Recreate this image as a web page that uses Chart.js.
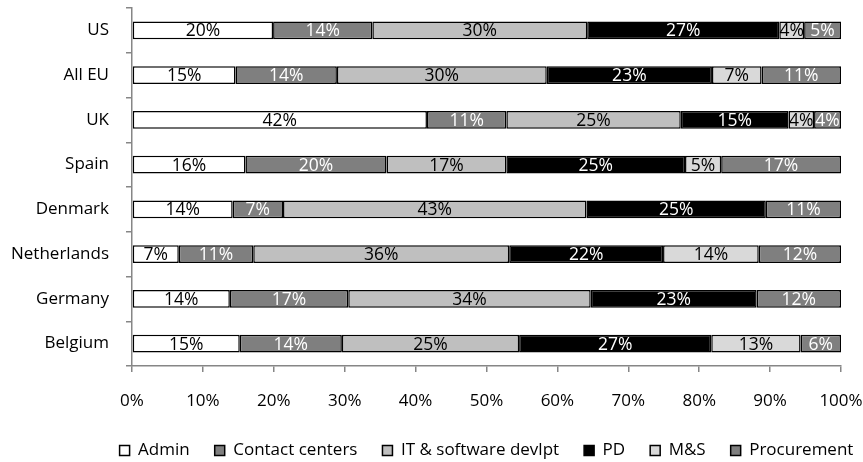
<!DOCTYPE html>
<html><head><meta charset="utf-8">
<script src="https://cdn.jsdelivr.net/npm/chart.js@4.4.0/dist/chart.umd.min.js"></script>
<style>html,body{margin:0;padding:0;background:#fff}canvas{display:block}</style>
</head><body>
<canvas id="c" width="863" height="462"></canvas>
<script>
const categories = ['US', 'All EU', 'UK', 'Spain', 'Denmark', 'Netherlands', 'Germany', 'Belgium'];
const seriesNames = ['Admin', 'Contact centers', 'IT & software devlpt', 'PD', 'M&S', 'Procurement'];
const admin          = [19.9, 14.6, 41.6, 16.0, 14.2,  6.6, 13.8, 15.2];
const contactCenters = [14.0, 14.3, 11.2, 19.9,  7.1, 10.5, 16.7, 14.4];
const itSoftware     = [30.3, 29.6, 24.6, 16.9, 42.8, 36.1, 34.2, 25.0];
const pd             = [27.1, 23.3, 15.2, 25.2, 25.3, 21.7, 23.4, 27.1];
const ms             = [ 3.5,  7.0,  3.6,  5.1,  0.0, 13.5,  0.0, 12.6];
const procurement    = [ 5.2, 11.2,  3.8, 16.9, 10.6, 11.6, 11.9,  5.7];
const xTickValues = [0, 10, 20, 30, 40, 50, 60, 70, 80, 90, 100];

const fills = ['#ffffff', '#7f7f7f', '#bfbfbf', '#000000', '#d9d9d9', '#7f7f7f'];
const labelColors = ['#000', '#fff', '#000', '#fff', '#000', '#fff'];
const values = [admin, contactCenters, itSoftware, pd, ms, procurement];
const AXIS = '#868686';
const SANS = '"Open Sans", "Liberation Sans", sans-serif';

const datasets = seriesNames.map((name, i) => ({
  label: name,
  data: values[i],
  backgroundColor: fills[i],
  borderColor: '#000',
  borderWidth: 1.5,
  borderSkipped: false,
  categoryPercentage: 1,
  barPercentage: 0.4,
  labelColor: labelColors[i]
}));

const barLabels = {
  id: 'barLabels',
  afterDatasetsDraw(chart) {
    const ctx = chart.ctx;
    ctx.save();
    ctx.font = '17.5px ' + SANS;
    ctx.textAlign = 'center';
    ctx.textBaseline = 'middle';
    chart.data.datasets.forEach((ds, di) => {
      const meta = chart.getDatasetMeta(di);
      meta.data.forEach((el, i) => {
        const v = ds.data[i];
        if (!v) return;
        const p = el.getProps(['x', 'y', 'base'], true);
        ctx.fillStyle = ds.labelColor;
        ctx.fillText(Math.round(v) + '%', (p.x + p.base) / 2, p.y + 1);
      });
    });
    ctx.restore();
  }
};

const legendShift = {
  id: 'legendShift',
  afterLayout(chart) {
    const l = chart.legend;
    if (!l) return;
    l.left += 66; l.right += 66;
    l.top += 7; l.bottom += 7;
  }
};

new Chart(document.getElementById('c'), {
  type: 'bar',
  data: { labels: categories, datasets },
  plugins: [barLabels, legendShift],
  options: {
    indexAxis: 'y',
    responsive: false,
    devicePixelRatio: 1,
    animation: false,
    layout: { padding: { top: 8, right: 22, left: 0, bottom: 0 } },
    scales: {
      x: {
        stacked: true,
        min: 0, max: 100,
        afterBuildTicks(scale) { scale.ticks = xTickValues.map(v => ({ value: v })); },
        afterFit(scale) { scale.height = 44; scale.paddingLeft = 0; scale.paddingRight = 0; },
        ticks: { callback: v => v + '%', color: '#000', padding: 19, font: { family: SANS, size: 17 }, maxRotation: 0 },
        grid: { drawOnChartArea: false, drawTicks: true, tickLength: 6, color: AXIS, lineWidth: 1.5 },
        border: { display: true, color: AXIS, width: 1.5 }
      },
      y: {
        stacked: true,
        afterFit(scale) { scale.width = 132; scale.paddingTop = 0; scale.paddingBottom = 0; },
        ticks: { color: '#000', padding: 17, font: { family: SANS, size: 17 } },
        grid: { drawOnChartArea: false, drawTicks: true, tickLength: 6, color: AXIS, lineWidth: 1.5, offset: true },
        border: { display: true, color: AXIS, width: 1.5 }
      }
    },
    plugins: {
      legend: {
        position: 'bottom',
        labels: {
          boxWidth: 10, boxHeight: 10, padding: 25, color: '#000',
          font: { family: SANS, size: 17 }
        }
      },
      tooltip: { enabled: false }
    }
  }
});
</script>
</body></html>
